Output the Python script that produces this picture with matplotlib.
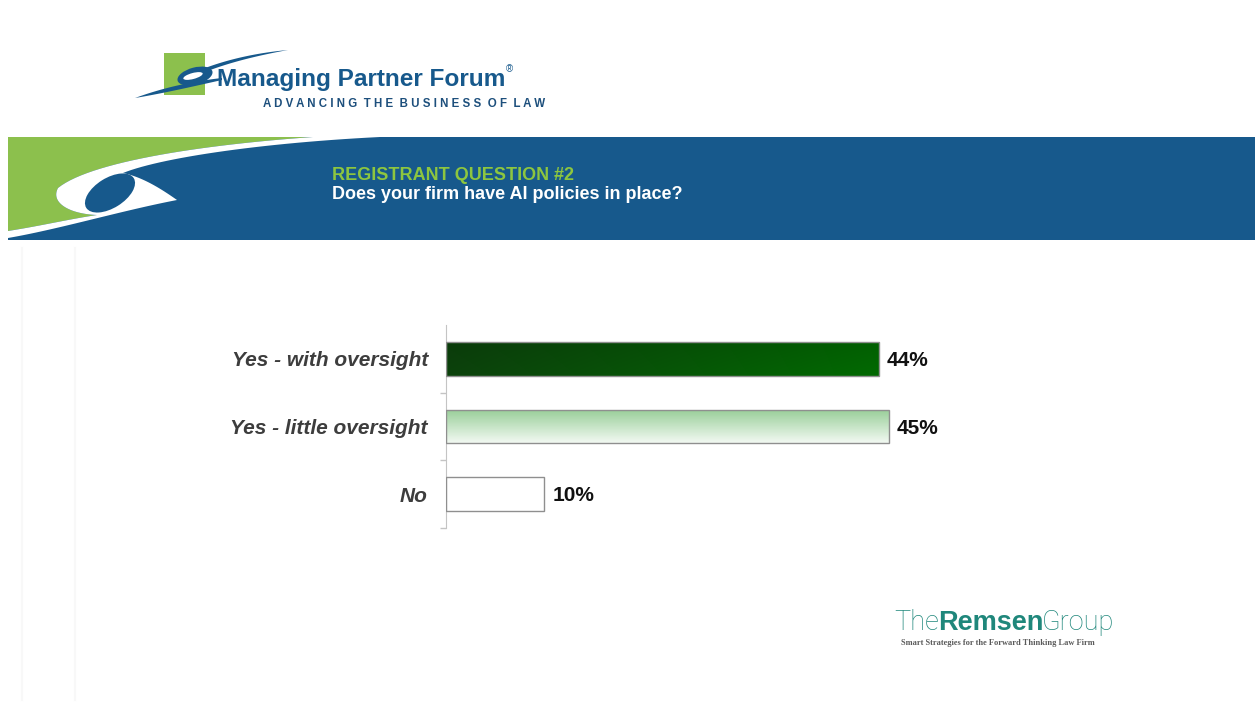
import matplotlib
matplotlib.use("Agg")
import matplotlib.pyplot as plt
import numpy as np
from matplotlib import font_manager
from matplotlib.patches import Ellipse, Polygon, Rectangle

# survey answers, top to bottom
categories = ["Yes - with oversight", "Yes - little oversight", "No"]
shares = [44, 45, 10]
share_labels = ["44%", "45%", "10%"]

question_tag = "REGISTRANT QUESTION #2"
question = "Does your firm have AI policies in place?"
brand = "Managing Partner Forum"
brand_tagline = "ADVANCING THE BUSINESS OF LAW"
sponsor_parts = ["The", "Remsen", "Group"]
sponsor_tagline = "Smart Strategies for the Forward Thinking Law Firm"

W, H = 1255, 702
NAVY = "#17598c"
LEAF = "#8cc04d"
TEAL = "#1f877b"

_installed = {f.name for f in font_manager.fontManager.ttflist}
SANS = ["Liberation Sans", "DejaVu Sans"]
NARROW = (["Liberation Sans Narrow"] + SANS) if "Liberation Sans Narrow" in _installed else SANS
THIN = (["Roboto"] + SANS) if "Roboto" in _installed else SANS
plt.rcParams["font.family"] = SANS


def bezier(p0, p1, p2, p3, n=30):
    t = np.linspace(0, 1, n)[:, None]
    p0, p1, p2, p3 = (np.asarray(p, float) for p in (p0, p1, p2, p3))
    return ((1 - t) ** 3 * p0 + 3 * (1 - t) ** 2 * t * p1
            + 3 * (1 - t) * t ** 2 * p2 + t ** 3 * p3)


fig = plt.figure(figsize=(W / 100, H / 100), dpi=100)
fig.patch.set_facecolor("white")
renderer = fig.canvas.get_renderer()


def width_of(t):
    return t.get_window_extent(renderer).width


def fit_width(t, target):
    t.set_fontsize(t.get_fontsize() * target / width_of(t))
    return t


# page layer in pixel coordinates (y grows downward)
page = fig.add_axes([0, 0, 1, 1])
page.set_xlim(0, W)
page.set_ylim(H, 0)
page.axis("off")

for xv in (22, 75):
    page.plot([xv, xv], [248, 700], color="#f8f8f8", lw=1.5, zorder=0)

# --- header logo ---
page.add_patch(Rectangle((164, 53), 41, 42, fc=LEAF, lw=0))
low_swoosh = np.vstack([bezier((135, 98), (165, 87), (195, 81), (222, 78)),
                        bezier((222, 80), (195, 86), (165, 93), (135, 98))])
page.add_patch(Polygon(low_swoosh, closed=True, fc=NAVY, lw=0))
high_swoosh = np.vstack([bezier((200, 70), (225, 60), (255, 53), (288, 50)),
                         bezier((288, 50), (255, 56), (228, 63), (205, 72))])
page.add_patch(Polygon(high_swoosh, closed=True, fc=NAVY, lw=0))
page.add_patch(Ellipse((195, 76), 36, 17, angle=-15, fc=NAVY, lw=0))
page.add_patch(Ellipse((193, 76), 20, 6, angle=-15, fc="white", lw=0))

bt = page.text(217, 86, brand, fontsize=20, weight="bold", color=NAVY,
               family=NARROW, va="baseline", ha="left")
fit_width(bt, 288)
page.text(217 + width_of(bt) + 1, 72, "\u00ae", fontsize=7, color=NAVY,
          va="baseline", ha="left")
spaced = "  ".join(" ".join(word) for word in brand_tagline.split())
tt = page.text(263, 107, spaced, fontsize=8, weight="bold", color="#1d4f7c",
               va="baseline", ha="left")
fit_width(tt, 283)

# --- question banner ---
page.add_patch(Rectangle((8, 137), W - 8, 103, fc=NAVY, lw=0))
upper_edge = bezier((313, 137), (200, 145), (90, 162), (58, 188))
loop_edge = bezier((58, 188), (50, 203), (70, 214), (97, 215))
under_edge = bezier((97, 215), (70, 219), (40, 226), (8, 231))
page.add_patch(Polygon(np.vstack([[(8, 137)], upper_edge, loop_edge, under_edge]),
                       closed=True, fc=LEAF, lw=0))
swoosh = np.vstack([upper_edge, loop_edge, under_edge, [(8, 238)],
                    bezier((8, 238), (60, 229), (120, 211), (177, 200)),
                    bezier((177, 200), (160, 188), (142, 177), (123, 173)),
                    bezier((123, 173), (160, 158), (260, 143), (380, 137))])
page.add_patch(Polygon(swoosh, closed=True, fc="white", lw=0))
page.add_patch(Ellipse((110, 193), 56, 30, angle=-32, fc=NAVY, lw=0))

page.text(332, 180, question_tag, fontsize=13, weight="bold", color="#8dc63f",
          va="baseline", ha="left")
page.text(332, 199, question, fontsize=13, weight="bold", color="white",
          va="baseline", ha="left")

# --- sponsor mark ---
weights = ["light", "bold", "light"]
families = [THIN, SANS, THIN]
pieces = [page.text(0, 630, s, fontsize=26, weight=w, family=f, color=TEAL,
                    va="baseline", ha="left")
          for s, w, f in zip(sponsor_parts, weights, families)]
scale = 222 / sum(width_of(p) for p in pieces)
x = 894
for p in pieces:
    p.set_fontsize(p.get_fontsize() * scale)
    p.set_x(x)
    x += width_of(p) - 1
st = page.text(901, 645, sponsor_tagline, fontsize=6, weight="bold",
               family=["Liberation Serif", "DejaVu Serif"], color="#5a5a5a",
               va="baseline", ha="left")
fit_width(st, 196)

# --- bar chart ---
ax = fig.add_axes([446 / W, (H - 528) / H, 492 / W, 203 / H])
ax.patch.set_alpha(0)
y = np.arange(len(categories))
bars = ax.barh(y, shares, height=0.5, color="none", edgecolor="#8f8f8f",
               linewidth=1, zorder=3)

# gradient fills, clipped to each bar
u = np.linspace(0, 1, 256)
v = np.linspace(0, 1, 48)[:, None, None]
dark = np.array([12, 66, 12]) + (np.array([2, 106, 2]) - np.array([12, 66, 12])) * u[:, None]
fill_dark = (dark[None, :, :] * (0.9 + 0.1 * v)) / 255
light = np.array([152, 206, 152]) + (np.array([242, 249, 242]) - np.array([152, 206, 152])) * v
fill_light = np.broadcast_to(light, (48, 256, 3)) / 255
fill_white = np.ones((48, 256, 3))
for bar, img in zip(bars, [fill_dark, fill_light, fill_white]):
    x0, y0 = bar.get_x(), bar.get_y()
    im = ax.imshow(img, extent=(x0, x0 + bar.get_width(), y0 + bar.get_height(), y0),
                   aspect="auto", zorder=2, interpolation="bilinear")
    im.set_clip_path(bar)

for i, (val, lbl) in enumerate(zip(shares, share_labels)):
    ax.annotate(lbl, (val, i), xytext=(5.8, -5.2), textcoords="offset points",
                fontsize=15, weight="bold", color="#111111", va="baseline", ha="left")

ax.set_xlim(0, 50)
ax.set_ylim(len(categories) - 0.5, -0.5)
ax.set_aspect("auto")
ax.set_yticks(y, categories)
for lab in ax.get_yticklabels():
    lab.set_fontsize(15)
    lab.set_fontweight("bold")
    lab.set_fontstyle("italic")
    lab.set_color("#3d3d3d")
ax.set_yticks(y + 0.5, minor=True)
ax.tick_params(axis="y", which="major", length=0, pad=13)
ax.tick_params(axis="y", which="minor", length=4, width=1, color="#c4c4c4")
ax.xaxis.set_visible(False)
for side in ("top", "right", "bottom"):
    ax.spines[side].set_visible(False)
ax.spines["left"].set_color("#c4c4c4")

fig.savefig("out.png", dpi=100, facecolor="white")
